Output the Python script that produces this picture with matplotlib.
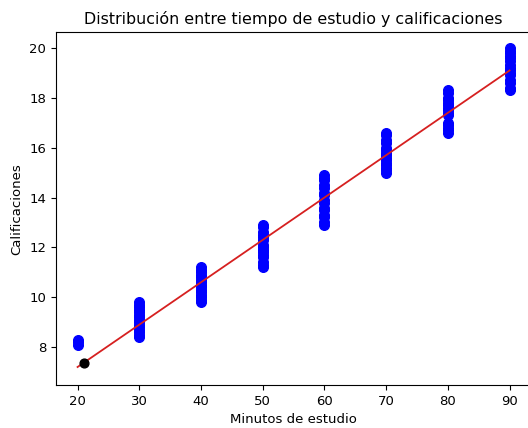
import matplotlib
matplotlib.use("Agg")
import matplotlib.pyplot as plt

# minutes of study and grades
minutos = [20, 30, 40, 50, 60, 70, 80, 90]
notas = [
    [8.1, 8.2, 8.3],
    [8.4, 8.5, 8.6, 8.7, 8.8, 8.9, 9.0, 9.1, 9.2, 9.3, 9.4, 9.5, 9.6, 9.7, 9.8],
    [9.8, 9.9, 10.0, 10.1, 10.2, 10.3, 10.4, 10.5, 10.6, 10.7, 10.8, 10.9, 11.0, 11.1, 11.2],
    [11.2, 11.3, 11.4, 11.6, 11.7, 11.8, 11.9, 12.0, 12.1, 12.3, 12.4, 12.5, 12.6, 12.8, 12.9],
    [12.9, 13.0, 13.2, 13.3, 13.5, 13.6, 13.8, 13.9, 14.1, 14.2, 14.4, 14.5, 14.7, 14.8, 14.9],
    [15.0, 15.1, 15.2, 15.3, 15.4, 15.5, 15.6, 15.7, 15.8, 15.9, 16.0, 16.2, 16.3, 16.5, 16.6],
    [16.6, 16.7, 16.8, 16.9, 17.0, 17.3, 17.4, 17.5, 17.6, 17.7, 17.8, 17.9, 18.0, 18.2, 18.3],
    [18.3, 18.4, 18.6, 18.7, 18.9, 19.0, 19.1, 19.2, 19.3, 19.5, 19.6, 19.7, 19.8, 19.9, 20.0],
]
recta_x = [20, 90]
recta_y = [7.2, 19.1]
pred_x = [21]
pred_y = [7.35]

xs = []
ys = []
for m, grupo in zip(minutos, notas):
    for n in grupo:
        xs.append(m)
        ys.append(n)

plt.rcParams['font.size'] = 9.5
fig = plt.figure(figsize=(5.28, 4.28), dpi=100)
ax = fig.add_axes([0.106, 0.1, 0.9, 0.825])

ax.scatter(xs, ys, color='blue', s=48)
ax.plot(recta_x, recta_y, color='#d62020', linewidth=1.3)
ax.scatter(pred_x, pred_y, color='black', s=40, zorder=3)

ax.set_title('Distribución entre tiempo de estudio y calificaciones', fontsize=11.4)
ax.set_xlabel('Minutos de estudio')
ax.set_ylabel('Calificaciones')
ax.set_xlim(16.5, 93.5)
ax.set_ylim(6.47, 20.64)
ax.set_xticks(minutos)
ax.set_yticks([8, 10, 12, 14, 16, 18, 20])

fig.savefig('out.png', dpi=100)
